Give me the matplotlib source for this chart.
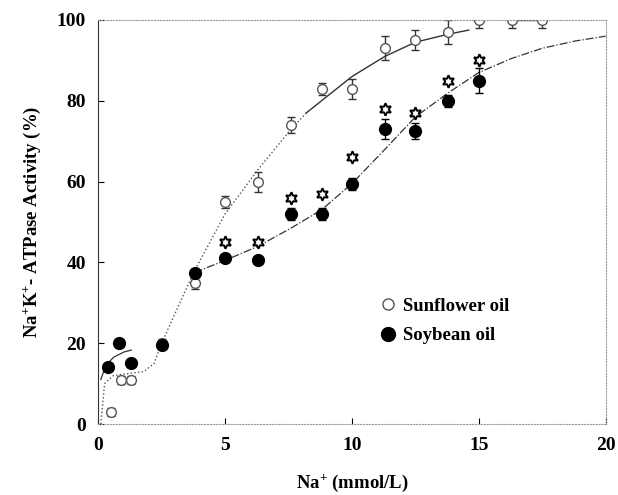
import matplotlib
matplotlib.use("Agg")
import matplotlib.pyplot as plt
from matplotlib.lines import Line2D

plt.rcParams['font.family'] = ['Liberation Serif', 'DejaVu Serif']
plt.rcParams['font.weight'] = 'bold'
plt.rcParams['mathtext.fontset'] = 'custom'
plt.rcParams['mathtext.rm'] = 'Liberation Serif:bold'
plt.rcParams['mathtext.default'] = 'rm'

x_sun = [0.5, 0.9, 1.3, 2.5, 3.8, 5.0, 6.3, 7.6, 8.8, 10.0, 11.3, 12.5, 13.8, 15.0, 16.3, 17.5]
y_sun = [3, 11, 11, 20, 35, 55, 60, 74, 83, 83, 93, 95, 97, 100, 100, 100]
e_sun = [1, 1, 1, 1, 1.5, 1.5, 2.5, 2, 1.5, 2.5, 3, 2.5, 3, 2, 2, 2]

x_soy = [0.4, 0.8, 1.3, 2.5, 3.8, 5.0, 6.3, 7.6, 8.8, 10.0, 11.3, 12.5, 13.8, 15.0]
y_soy = [14, 20, 15, 19.5, 37.5, 41, 40.5, 52, 52, 59.5, 73, 72.5, 80, 85]
e_soy = [0, 0, 0, 0, 0, 0, 0, 1.5, 1.5, 1.5, 2.5, 2, 1.5, 3]

x_star = [5.0, 6.3, 7.6, 8.8, 10.0, 11.3, 12.5, 13.8, 15.0]
y_star = [45, 45, 56, 57, 66, 78, 77, 85, 90]

# fitted curves (traced)
cx_sun_dot = [0.1, 0.25, 0.6, 1.2, 1.8, 2.2, 2.5, 3.0, 3.8, 5.0, 6.3, 7.6, 8.2]
cy_sun_dot = [0, 10, 12, 12.5, 13, 15, 20, 27, 38, 52, 63, 73, 77]
cx_sun = [8.2, 8.8, 10.0, 11.3, 12.5, 13.8, 14.6]
cy_sun = [77, 80, 86, 91, 94.5, 96.5, 97.5]

cx_soy_a = [0.1, 0.3, 0.6, 1.0, 1.3]
cy_soy_a = [11, 14.5, 16.5, 17.8, 18.3]
cx_soy = [3.8, 5.0, 6.3, 7.6, 8.8, 10.0, 11.3, 12.5, 13.8, 15.0, 16.3, 17.5, 18.8, 20.0]
cy_soy = [37.5, 40.5, 44, 48.5, 53, 59.5, 68, 76, 82, 87, 90.5, 93, 94.8, 96]

fig = plt.figure(figsize=(6.18, 4.95), dpi=100)
ax = fig.add_axes([0.159, 0.1434, 0.821, 0.8162])

ax.plot(cx_sun_dot, cy_sun_dot, ':', color='#555555', lw=1.0)
ax.plot(cx_sun, cy_sun, '-', color='#333333', lw=1.0)
ax.plot(cx_soy_a, cy_soy_a, '-', color='#333333', lw=0.9)
ax.plot(cx_soy, cy_soy, '-.', color='#333333', lw=0.9)
ax.plot([16.3, 17.5], [100, 100], '-', color='#333333', lw=1.0)

ax.errorbar(x_sun, y_sun, yerr=e_sun, fmt='o', ms=7, mfc='white', mec='#555555',
            mew=1.0, ecolor='#333333', elinewidth=1.0, capsize=3)
ax.errorbar(x_soy, y_soy, yerr=e_soy, fmt='o', ms=8.5, color='black',
            ecolor='black', elinewidth=1.0, capsize=3)
ax.plot(x_star, y_star, linestyle='none', marker=(6, 1, 0), ms=9, mfc='white',
        mec='black', mew=1.4)

ax.set_xlim(0, 20)
ax.set_ylim(0, 100)
ax.set_xticks([0, 5, 10, 15, 20])
ax.set_yticks([0, 20, 40, 60, 80, 100])
ax.tick_params(direction='in', length=4, width=0.8, labelsize=14, pad=9)
for lab in ax.get_xticklabels() + ax.get_yticklabels():
    lab.set_fontweight('bold')

ax.spines['left'].set_color('#333333')
for s in ['top', 'bottom', 'right']:
    ax.spines[s].set_linestyle(':')
    ax.spines[s].set_color('#999999')

ax.set_xlabel('Na$^{+}$ (mmol/L)', fontsize=13.5, fontweight='bold', labelpad=14)
ax.set_ylabel('Na$^{+}$K$^{+}$- ATPase Activity (%)', fontsize=13.5, fontweight='bold', labelpad=10)

handles = [Line2D([], [], linestyle='none', marker='o', ms=8, mfc='white', mec='#555555'),
           Line2D([], [], linestyle='none', marker='o', ms=10, color='black')]
ax.legend(handles, ['Sunflower oil', 'Soybean oil'], loc='center left',
          bbox_to_anchor=(0.52, 0.255), frameon=False,
          prop={'weight': 'bold', 'size': 13.5}, handletextpad=0.3, labelspacing=0.65,
          handlelength=1.0)

fig.savefig('out.png', dpi=100)
